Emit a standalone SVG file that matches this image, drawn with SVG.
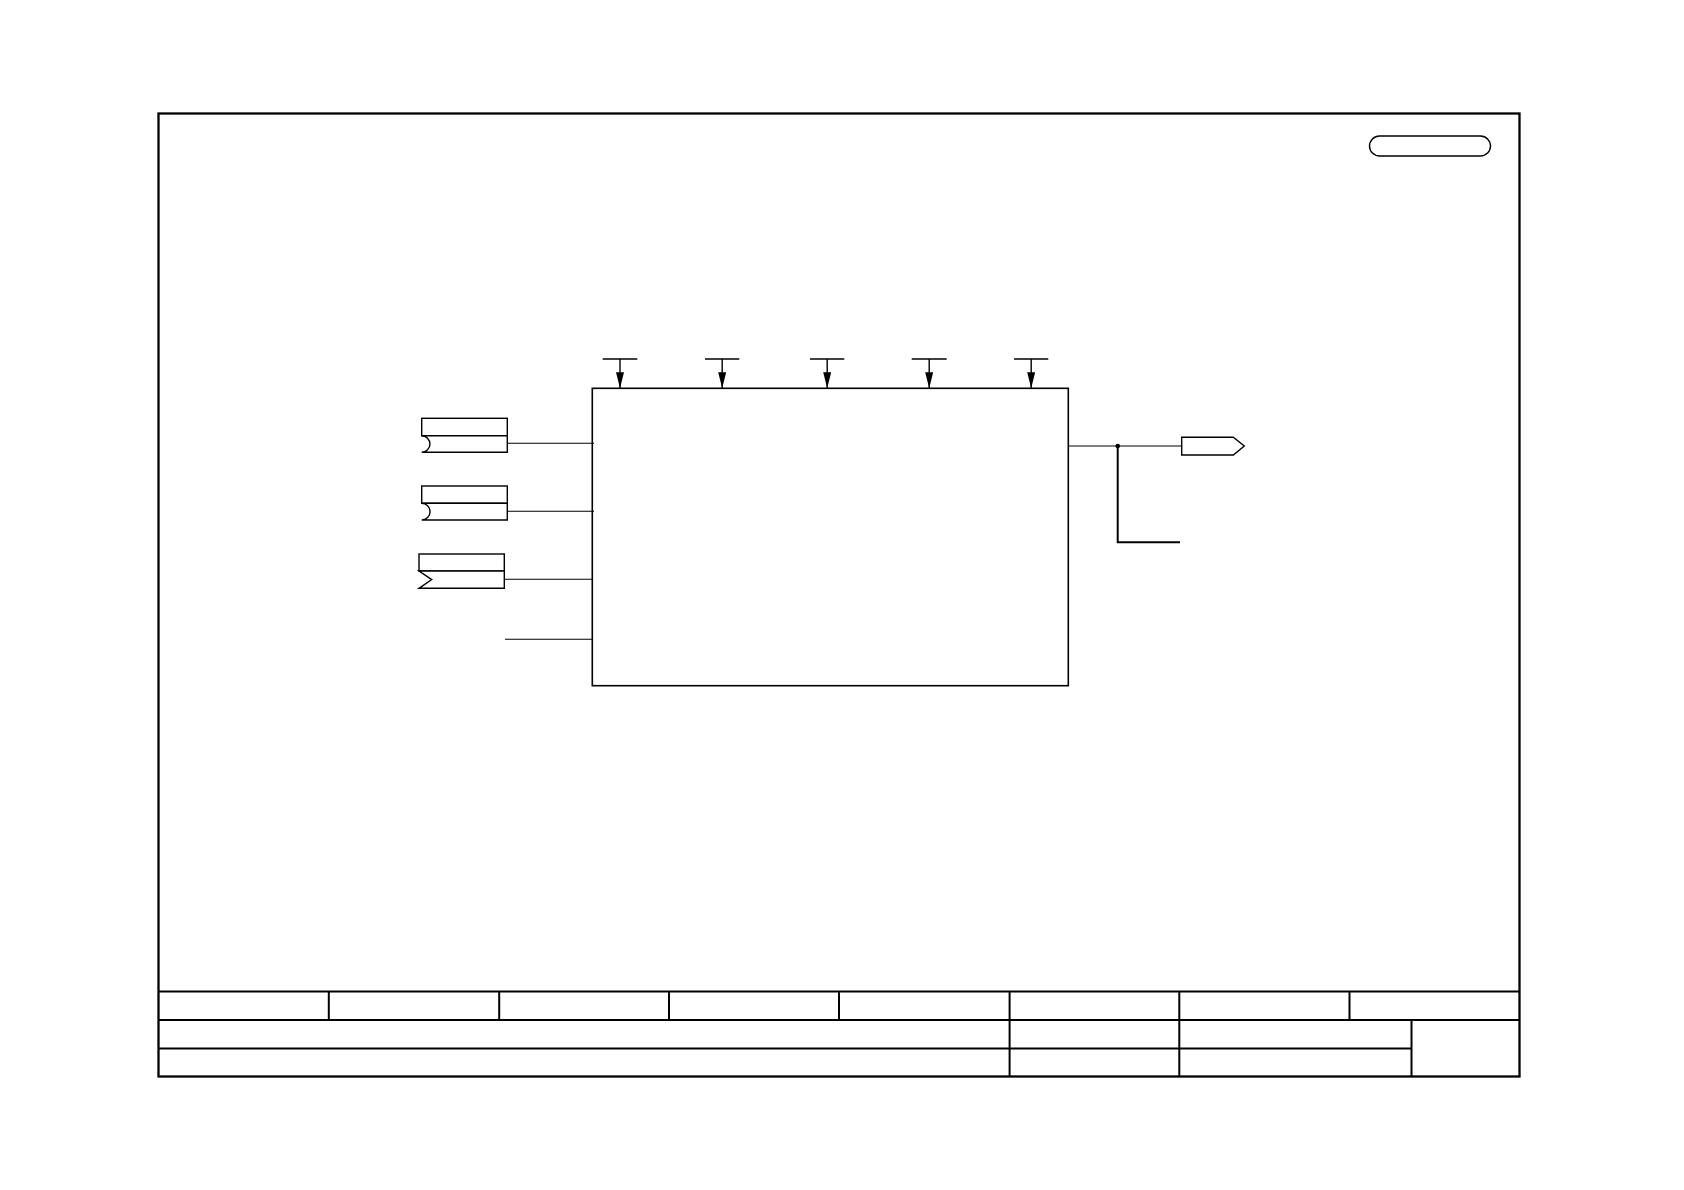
<svg xmlns="http://www.w3.org/2000/svg" width="1684" height="1190" viewBox="0 0 1684 1190">
<style>
.frame{fill:none;stroke:#000;stroke-width:2.3}
.tb{fill:none;stroke:#000;stroke-width:2}
.box{fill:#fff;stroke:#000;stroke-width:1.6}
.sym{fill:#fff;stroke:#000;stroke-width:1.4}
.wire{fill:none;stroke:#000;stroke-width:1.1}
.pin{fill:none;stroke:#000;stroke-width:1.4}
.bus{fill:none;stroke:#000;stroke-width:2}
</style>
<defs>
<marker id="arr" viewBox="0 0 16 8" refX="16" refY="4" markerWidth="16" markerHeight="8" markerUnits="userSpaceOnUse" orient="auto">
<path d="M0,0 L16,4 L0,8 Z" fill="#000"/>
</marker>
</defs>
<rect width="1684" height="1190" fill="#fff"/>
<g id="frame">
<rect class="frame" x="158.5" y="113.5" width="1361" height="963"/>
<rect class="sym" x="1369.5" y="136" width="121" height="20" rx="10" ry="10"/>
</g>
<g id="title-block">
<line class="tb" x1="158.5" y1="991.5" x2="1519.5" y2="991.5"/>
<line class="tb" x1="158.5" y1="1020" x2="1519.5" y2="1020"/>
<line class="tb" x1="158.5" y1="1048.5" x2="1411" y2="1048.5"/>
<line class="tb" x1="328.8" y1="991.5" x2="328.8" y2="1020"/>
<line class="tb" x1="499.2" y1="991.5" x2="499.2" y2="1020"/>
<line class="tb" x1="669" y1="991.5" x2="669" y2="1020"/>
<line class="tb" x1="839" y1="991.5" x2="839" y2="1020"/>
<line class="tb" x1="1009.6" y1="991.5" x2="1009.6" y2="1076.5"/>
<line class="tb" x1="1179.3" y1="991.5" x2="1179.3" y2="1076.5"/>
<line class="tb" x1="1349.5" y1="991.5" x2="1349.5" y2="1020"/>
<line class="tb" x1="1411.5" y1="1020" x2="1411.5" y2="1076.5"/>
</g>
<g id="main-block">
<rect class="box" x="592.3" y="388.3" width="476" height="297.4"/>
</g>
<g id="in1">
<rect class="sym" x="421.7" y="418.3" width="85.6" height="17.4"/>
<path class="sym" d="M421.7,435.7 L507.3,435.7 L507.3,452.3 L421.7,452.3 A8.3,8.3 0 0 0 421.7,435.7 Z"/>
</g>
<g id="in2">
<rect class="sym" x="421.7" y="486" width="85.6" height="17.3"/>
<path class="sym" d="M421.7,503.3 L507.3,503.3 L507.3,520 L421.7,520 A8.35,8.35 0 0 0 421.7,503.3 Z"/>
</g>
<g id="in3">
<rect class="sym" x="419" y="554" width="85.3" height="17"/>
<path class="sym" d="M419,571 L504.3,571 L504.3,588.3 L419,588.3 L431.7,579.6 Z"/>
</g>
<g id="out1">
<path class="sym" d="M1181.7,437.3 L1233.3,437.3 L1244.3,446 L1233.3,455 L1181.7,455 Z"/>
</g>
<g id="connectors">
<line class="wire" x1="507.3" y1="443.3" x2="594" y2="443.3"/>
<line class="wire" x1="507.3" y1="511.3" x2="594" y2="511.3"/>
<line class="wire" x1="504.3" y1="579.3" x2="593" y2="579.3"/>
<line class="wire" x1="505" y1="639.3" x2="593" y2="639.3"/>
<line class="wire" x1="1068.3" y1="446" x2="1181.7" y2="446"/>
<circle cx="1117.7" cy="446" r="2.3" fill="#000"/>
<polyline class="bus" points="1117.7,446 1117.7,542.3 1180,542.3"/>
<g id="pins">
<line class="pin" x1="602.7" y1="359" x2="637.3" y2="359"/>
<line class="pin" x1="620" y1="359" x2="620" y2="388.3" marker-end="url(#arr)"/>
<line class="pin" x1="705" y1="359" x2="739.3" y2="359"/>
<line class="pin" x1="722.2" y1="359" x2="722.2" y2="388.3" marker-end="url(#arr)"/>
<line class="pin" x1="810" y1="359" x2="844.3" y2="359"/>
<line class="pin" x1="827.2" y1="359" x2="827.2" y2="388.3" marker-end="url(#arr)"/>
<line class="pin" x1="911.7" y1="359" x2="946.7" y2="359"/>
<line class="pin" x1="929.2" y1="359" x2="929.2" y2="388.3" marker-end="url(#arr)"/>
<line class="pin" x1="1014" y1="359" x2="1048.3" y2="359"/>
<line class="pin" x1="1031.2" y1="359" x2="1031.2" y2="388.3" marker-end="url(#arr)"/>
</g>
</g>
</svg>
